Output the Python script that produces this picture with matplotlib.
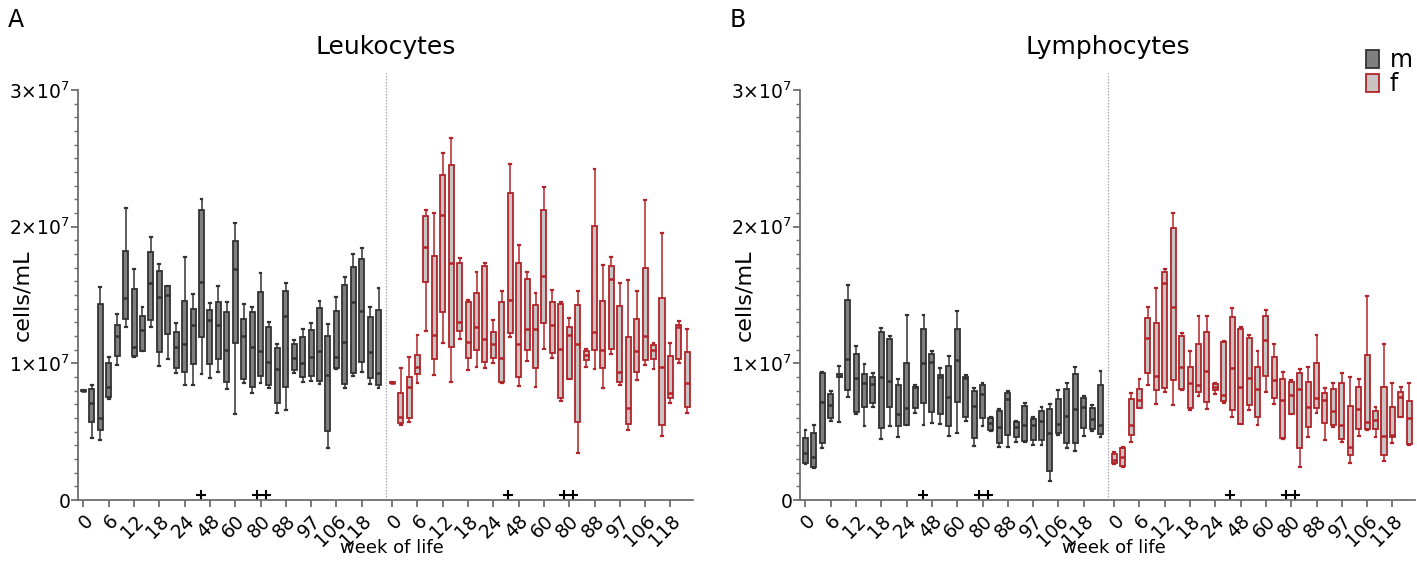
import matplotlib
matplotlib.use("Agg")
import matplotlib.pyplot as plt
from matplotlib.patches import Patch
from matplotlib.ticker import FixedLocator

plt.rcParams['font.family'] = ['DejaVu Sans']
plt.rcParams['mathtext.fontset'] = 'dejavusans'

# ---------------- data (units: 1e6 cells/mL), each box = (min, q1, median, q3, max)
week_labels = ['0', '6', '12', '18', '24', '48', '60', '80', '88', '97', '106', '118']

leuk_m = [
    (7.95, 7.97, 8.0, 8.03, 8.05), (4.51, 5.73, 7.07, 8.09, 8.41), (4.39, 5.12, 6.02, 14.34, 15.61),
    (7.36, 7.51, 8.24, 10.05, 10.48), (9.88, 10.53, 12.0, 12.80, 13.58), (12.68, 13.22, 14.80, 18.24, 21.39),
    (10.48, 10.53, 11.22, 15.44, 16.88), (10.87, 10.87, 12.44, 13.46, 14.14), (12.63, 13.17, 15.85, 18.12, 19.27),
    (9.80, 10.85, 14.88, 16.75, 17.27), (10.29, 12.14, 15.0, 15.66, 15.66), (9.27, 9.63, 11.22, 12.31, 12.97),
    (8.41, 9.39, 11.41, 14.58, 17.80), (8.41, 9.92, 12.80, 13.95, 15.07), (9.22, 11.90, 15.97, 21.22, 22.02),
    (8.90, 9.92, 13.17, 13.90, 14.39), (9.39, 10.29, 12.80, 14.51, 15.66), (8.09, 8.66, 10.97, 13.78, 14.46),
    (6.29, 11.46, 16.88, 18.95, 20.24), (8.58, 8.83, 12.0, 13.22, 14.34), (7.80, 8.29, 11.22, 13.78, 14.14),
    (8.58, 9.07, 10.90, 15.24, 16.58), (8.17, 8.41, 10.12, 12.63, 13.05), (6.39, 7.07, 9.56, 11.09, 11.41),
    (6.58, 8.24, 13.46, 15.31, 15.85), (9.27, 9.51, 10.36, 11.41, 11.70), (8.66, 8.97, 10.05, 11.95, 12.48),
    (8.73, 9.07, 10.48, 12.44, 12.92), (8.48, 8.73, 10.92, 14.07, 14.58), (3.78, 5.07, 9.15, 12.0, 12.88),
    (9.56, 9.63, 10.44, 13.83, 14.83), (8.17, 8.46, 11.58, 15.73, 16.29), (9.07, 9.32, 14.51, 17.07, 18.0),
    (9.39, 10.07, 13.83, 17.63, 18.41), (8.46, 8.95, 10.85, 13.41, 14.09), (8.17, 8.41, 9.27, 13.90, 15.49),
]
leuk_f = [
    (8.53, 8.56, 8.58, 8.61, 8.63), (5.48, 5.65, 6.09, 7.85, 9.63), (5.68, 5.97, 8.29, 9.02, 10.48),
    (8.58, 9.21, 9.70, 10.61, 12.07), (12.39, 15.92, 18.53, 20.80, 21.22), (9.14, 10.29, 12.07, 17.85, 20.97),
    (11.46, 13.78, 20.85, 23.78, 25.36), (8.65, 11.17, 17.36, 24.51, 26.46), (11.75, 12.39, 13.04, 17.36, 17.68),
    (9.51, 10.41, 11.58, 14.51, 14.63), (9.75, 10.97, 12.68, 15.12, 16.70), (9.68, 10.12, 11.78, 17.14, 17.36),
    (10.04, 10.41, 11.41, 12.31, 13.17), (8.53, 8.65, 10.36, 14.51, 15.31), (11.95, 12.19, 14.63, 22.48, 24.58),
    (8.34, 8.97, 11.39, 17.36, 18.65), (10.19, 10.97, 12.48, 16.14, 16.70), (8.24, 9.63, 12.48, 14.26, 15.12),
    (11.02, 12.97, 16.39, 21.26, 22.92), (10.36, 10.73, 12.80, 14.51, 15.36), (7.24, 7.43, 11.04, 14.34, 14.51),
    (8.82, 8.82, 12.07, 12.63, 13.29), (3.46, 5.73, 11.39, 14.26, 15.31), (9.70, 10.24, 10.61, 10.92, 11.02),
    (9.56, 10.97, 12.31, 20.04, 24.19), (8.17, 9.63, 10.97, 14.58, 17.19), (10.65, 11.02, 16.14, 17.14, 17.80),
    (8.41, 8.65, 9.34, 14.19, 15.90), (5.12, 5.56, 6.70, 11.95, 16.09), (8.78, 9.39, 10.90, 13.24, 15.31),
    (9.87, 10.24, 12.0, 16.95, 21.99), (9.56, 10.29, 10.97, 11.34, 11.46), (4.68, 5.48, 9.70, 14.75, 19.51),
    (7.07, 7.43, 7.85, 10.53, 11.51), (10.0, 10.29, 12.63, 12.80, 13.12), (6.39, 6.78, 8.58, 10.85, 12.48),
]
lymph_m = [
    (2.63, 2.68, 3.46, 4.51, 5.12), (2.32, 2.39, 3.12, 4.93, 5.49), (3.78, 4.15, 7.15, 9.32, 9.39),
    (5.80, 5.98, 6.95, 7.76, 8.0), (5.68, 9.0, 9.1, 9.2, 9.80), (7.56, 8.05, 10.29, 14.63, 15.73),
    (6.29, 6.46, 8.90, 10.66, 11.27), (5.41, 6.78, 8.58, 9.22, 9.93), (6.83, 7.07, 8.46, 9.02, 9.32),
    (4.46, 5.24, 8.97, 12.32, 12.61), (5.41, 6.78, 8.71, 11.76, 12.0), (4.58, 5.44, 6.29, 8.41, 8.83),
    (5.49, 5.49, 6.71, 10.05, 13.54), (6.39, 6.76, 8.24, 8.29, 8.41), (5.49, 7.07, 10.0, 12.49, 13.54),
    (5.61, 6.41, 10.12, 10.66, 10.93), (5.56, 6.29, 9.0, 9.15, 9.63), (4.68, 5.41, 7.56, 9.80, 10.54),
    (4.93, 7.15, 10.24, 12.51, 13.83), (5.80, 6.05, 8.9, 9.02, 9.15), (3.98, 4.56, 6.88, 8.0, 8.22),
    (5.41, 5.98, 7.73, 8.41, 8.58), (5.07, 5.12, 5.66, 6.02, 6.10), (3.90, 4.15, 5.37, 6.51, 6.66),
    (3.90, 4.76, 7.37, 7.85, 8.0), (4.27, 4.59, 5.37, 5.68, 5.78), (4.27, 4.34, 5.49, 6.88, 7.12),
    (4.02, 4.39, 5.49, 5.90, 6.10), (4.02, 4.39, 5.80, 6.54, 6.83), (1.41, 2.15, 4.88, 6.63, 7.0),
    (4.76, 4.88, 5.56, 7.37, 8.05), (3.78, 4.15, 6.15, 8.12, 8.54), (3.61, 4.15, 6.63, 9.20, 9.71),
    (4.68, 5.24, 6.83, 7.44, 7.61), (5.07, 5.17, 5.90, 6.71, 6.95), (4.59, 4.83, 5.49, 8.41, 9.46),
]
lymph_f = [
    (2.63, 2.68, 2.92, 3.36, 3.53), (2.39, 2.48, 3.17, 3.78, 3.90), (4.22, 4.76, 5.49, 7.37, 7.80),
    (6.71, 6.71, 7.32, 8.10, 8.83), (8.41, 9.27, 11.83, 13.29, 14.09), (7.02, 8.05, 9.07, 12.97, 15.49),
    (7.92, 8.17, 15.85, 16.70, 16.88), (6.95, 8.78, 14.14, 19.88, 21.02), (8.05, 8.10, 9.70, 12.02, 12.24),
    (6.58, 6.71, 8.58, 9.70, 10.90), (7.61, 7.92, 8.41, 11.39, 13.48), (6.63, 7.19, 9.44, 12.31, 13.48),
    (7.75, 8.05, 8.24, 8.48, 8.58), (7.07, 7.27, 7.68, 11.58, 11.66), (6.09, 6.58, 9.63, 13.36, 14.02),
    (5.56, 5.56, 8.29, 12.49, 12.68), (6.58, 6.95, 8.90, 11.83, 12.07), (5.49, 6.09, 8.10, 9.70, 10.90),
    (7.92, 9.07, 11.71, 13.46, 13.90), (7.02, 7.44, 8.78, 10.44, 11.41), (4.46, 4.51, 7.32, 8.83, 9.39),
    (6.29, 6.29, 7.68, 8.66, 8.78), (2.39, 3.78, 8.10, 9.27, 9.56), (4.58, 5.37, 6.78, 8.66, 9.70),
    (6.39, 6.71, 7.44, 10.0, 12.07), (4.39, 5.66, 7.32, 7.85, 8.17), (5.32, 5.49, 6.54, 8.10, 8.58),
    (4.27, 4.44, 5.49, 8.53, 9.32), (2.68, 3.29, 3.90, 6.88, 9.02), (4.68, 5.17, 6.63, 8.29, 8.83),
    (5.12, 5.17, 5.73, 10.61, 14.92), (4.58, 5.17, 5.85, 6.54, 6.78), (2.88, 3.29, 4.68, 8.24, 11.41),
    (4.19, 4.58, 4.76, 6.78, 8.58), (6.09, 6.09, 7.56, 7.92, 8.29), (4.02, 4.10, 5.98, 7.27, 8.58),
]
# positions of the "+" significance marks (category index units)
plus_pos = [13.9, 20.6, 21.7, 50.3, 57.0, 58.1]

panels = [('A', 'Leukocytes', leuk_m, leuk_f), ('B', 'Lymphocytes', lymph_m, lymph_f)]

# ---------------- style
FEMALE_START = 36.62
m_face, m_edge = '#7f7f7f', '#333333'
f_face, f_edge = '#cac3c3', '#b1242a'
axis_col = '#6e6e6e'

W, H = 1417, 574
fig = plt.figure(figsize=(W / 100, H / 100), dpi=100)

axes_px = [(78, 693), (800, 1415)]
top_px, bot_px = 73, 500


def stats(boxes):
    return [dict(whislo=b[0] * 1e6, q1=b[1] * 1e6, med=b[2] * 1e6, q3=b[3] * 1e6,
                 whishi=b[4] * 1e6, fliers=[]) for b in boxes]


for (letter, title, mdat, fdat), (x0, x1) in zip(panels, axes_px):
    ax = fig.add_axes([x0 / W, 1 - bot_px / H, (x1 - x0) / W, (bot_px - top_px) / H])
    for data, face, edge, start in ((mdat, m_face, m_edge, 0.0), (fdat, f_face, f_edge, FEMALE_START)):
        pos = [start + i for i in range(len(data))]
        ax.bxp(stats(data), positions=pos, widths=0.6, showfliers=False,
               patch_artist=True, manage_ticks=False, capwidths=0.22,
               boxprops=dict(facecolor=face, edgecolor=edge, linewidth=1.3),
               medianprops=dict(color=edge, linewidth=1.8),
               whiskerprops=dict(color=edge, linewidth=1.1),
               capprops=dict(color=edge, linewidth=1.6))
    ax.plot(plus_pos, [0.38e6] * len(plus_pos), linestyle='none', marker='+',
            color='black', markersize=7, markeredgewidth=1.5, clip_on=False)
    ax.axvline(35.85, color='#a8a8a8', linestyle=(0, (1.2, 1.2)), linewidth=0.9)

    ax.set_xlim(-0.65, 72.3)
    ax.set_ylim(0, 3.125e7)
    ticks = [3 * k for k in range(12)] + [FEMALE_START + 3 * k for k in range(12)]
    ax.set_xticks(ticks)
    ax.set_xticklabels(week_labels + week_labels, rotation=45, ha='right',
                       rotation_mode='anchor', fontsize=13.5)
    ax.set_yticks([0, 1e7, 2e7, 3e7])
    ax.set_yticklabels(['0', r'1×10$^{7}$', r'2×10$^{7}$', r'3×10$^{7}$'], fontsize=13.5)
    ax.yaxis.set_minor_locator(FixedLocator([k * 1e6 for k in range(31)]))
    for s in ('top', 'right'):
        ax.spines[s].set_visible(False)
    ax.spines['left'].set_bounds(0, 3e7)
    for s in ('left', 'bottom'):
        ax.spines[s].set_color(axis_col)
        ax.spines[s].set_linewidth(1.3)
    ax.tick_params(axis='both', which='major', length=5, width=1.3, color=axis_col)
    ax.tick_params(axis='y', which='major', pad=0.5)
    ax.tick_params(axis='x', which='major', pad=3)
    ax.tick_params(axis='y', which='minor', length=3, width=1.0, color=axis_col)
    ax.tick_params(axis='x', which='minor', bottom=False)

    cx = (x0 + x1) / 2 / W
    fig.text(cx, 1 - 47 / H, title, ha='center', va='center', fontsize=18)
    fig.text(cx + 6 / W, 1 - 548 / H, 'week of life', ha='center', va='center', fontsize=13)
    fig.text((x0 - 56) / W, 1 - 295 / H, 'cells/mL', ha='center', va='center',
             rotation=90, fontsize=16)
    fig.text((x0 - 62) / W, 1 - 20 / H, letter, ha='center', va='center', fontsize=17)

handles = [Patch(facecolor=m_face, edgecolor=m_edge, linewidth=1.3, label='m'),
           Patch(facecolor=f_face, edgecolor=f_edge, linewidth=1.3, label='f')]
fig.legend(handles=handles, loc='upper right', bbox_to_anchor=(1413 / W, 1 - 48 / H),
           frameon=False, fontsize=17, handlelength=0.55, handleheight=0.8,
           handletextpad=0.45, labelspacing=0.0, borderaxespad=0, borderpad=0)

fig.savefig('out.png', dpi=100)
